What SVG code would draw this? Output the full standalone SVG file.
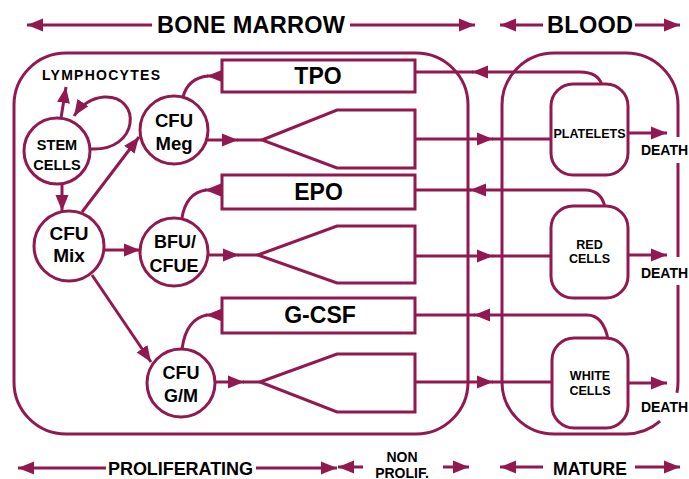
<svg xmlns="http://www.w3.org/2000/svg" width="689" height="479" viewBox="0 0 689 479">
<defs>
<marker id="ah" markerUnits="userSpaceOnUse" markerWidth="18" markerHeight="14" refX="16" refY="7" orient="auto-start-reverse" viewBox="0 0 18 14">
<path d="M0,0.5 L16,7 L0,13.5 z" fill="#911950"/>
</marker>
</defs>
<style>
.ln{fill:none;stroke:#911950;stroke-width:3}
.bx{fill:#fff;stroke:#911950;stroke-width:3}
.ar{fill:none;stroke:#911950;stroke-width:3;marker-end:url(#ah)}
.as{fill:none;stroke:#911950;stroke-width:3;marker-start:url(#ah)}
.t{font-family:"Liberation Sans",Arial,sans-serif;font-weight:bold;fill:#000;text-anchor:middle}
</style>
<rect width="689" height="479" fill="#fff"/>

<g id="regions">
<rect class="ln" x="14" y="53" width="454" height="381" rx="52"/>
<path class="ln" d="M678,137 L678,105 A52 52 0 0 0 626,53 L554,53 A52 52 0 0 0 502,105 L502,382 A52 52 0 0 0 554,434 L626,434 A52 52 0 0 0 660.1,421.2"/>
<path class="ln" d="M678,163 L678,257"/>
<path class="ln" d="M678,285 L678,382 A52 52 0 0 1 676.9,392.8"/>
</g>

<g id="headings">
<line class="as" x1="27" y1="25" x2="152" y2="25"/>
<line class="ar" x1="350" y1="25" x2="475" y2="25"/>
<text class="t" x="251" y="33" font-size="23.5" textLength="188">BONE MARROW</text>
<line class="as" x1="500" y1="25" x2="543" y2="25"/>
<line class="ar" x1="635" y1="25" x2="680" y2="25"/>
<text class="t" x="590" y="33" font-size="23.5" textLength="86">BLOOD</text>
<line class="as" x1="18" y1="468" x2="106" y2="468"/>
<line class="ar" x1="256" y1="468" x2="337" y2="468"/>
<text class="t" x="180.5" y="475" font-size="18" textLength="145">PROLIFERATING</text>
<line class="as" x1="338" y1="467" x2="363" y2="467"/>
<line class="ar" x1="443" y1="467" x2="469" y2="467"/>
<text class="t" x="402" y="462" font-size="14">NON</text>
<text class="t" x="402" y="477.5" font-size="14">PROLIF.</text>
<line class="as" x1="500" y1="467" x2="543" y2="467"/>
<line class="ar" x1="635" y1="467" x2="680" y2="467"/>
<text class="t" x="590" y="475" font-size="17.5" textLength="74">MATURE</text>
</g>

<g id="connectors">
<line class="ar" x1="61" y1="118" x2="66" y2="87"/>
<path class="ar" d="M90,149 C140,152 142,95 104,97 C92,98 82,104 74,116"/>
<line class="ar" x1="62" y1="184" x2="62" y2="211"/>
<line class="ar" x1="82" y1="212" x2="139" y2="137"/>
<line class="ar" x1="105" y1="250" x2="140" y2="250"/>
<line class="ar" x1="92" y1="275" x2="151" y2="362"/>
<line class="ar" x1="206" y1="140" x2="238" y2="140"/>
<line class="ln" x1="237" y1="140" x2="262" y2="140"/>
<line class="ar" x1="207" y1="255" x2="239" y2="255"/>
<line class="ln" x1="238" y1="255" x2="258" y2="255"/>
<line class="ar" x1="214" y1="382" x2="244" y2="382"/>
<line class="ln" x1="243" y1="382" x2="260" y2="382"/>
<line class="ar" x1="415" y1="139" x2="493" y2="139"/>
<line class="ln" x1="492" y1="139" x2="552" y2="139"/>
<line class="ar" x1="415" y1="256" x2="493" y2="256"/>
<line class="ln" x1="492" y1="256" x2="552" y2="256"/>
<line class="ar" x1="415" y1="382" x2="493" y2="382"/>
<line class="ln" x1="492" y1="382" x2="552" y2="382"/>
<line class="ar" x1="628" y1="133" x2="667" y2="133"/>
<line class="ar" x1="628" y1="255" x2="667" y2="255"/>
<line class="ar" x1="628" y1="383" x2="667" y2="383"/>
<path class="ar" d="M602,85 Q598,72 580,72 L472,72"/>
<line class="ln" x1="473" y1="72" x2="415" y2="72"/>
<path class="ar" d="M605,207 Q601,190 585,190 L470,190"/>
<line class="ln" x1="471" y1="190" x2="415" y2="190"/>
<path class="ar" d="M608,339 Q603,315 587,315 L474,315"/>
<line class="ln" x1="475" y1="315" x2="415" y2="315"/>
<line class="ar" x1="222" y1="76" x2="207" y2="76"/>
<path class="ln" d="M208,76 Q188,78 183,97"/>
<line class="ar" x1="222" y1="190" x2="205" y2="190"/>
<path class="ln" d="M206,190 Q186,193 182,218"/>
<line class="ar" x1="222" y1="315" x2="206" y2="315"/>
<path class="ln" d="M207,315 Q186,319 182,349"/>
</g>

<g id="stem">
<circle class="bx" cx="57" cy="151" r="33"/>
<text class="t" x="57" y="150" font-size="14.5">STEM</text>
<text class="t" x="57" y="170" font-size="14.5">CELLS</text>
</g>
<g id="lymphocytes">
<text class="t" x="101" y="80" font-size="14" textLength="118">LYMPHOCYTES</text>
</g>
<g id="cfu-mix">
<circle class="bx" cx="69" cy="246" r="35"/>
<text class="t" x="69" y="240" font-size="19">CFU</text>
<text class="t" x="69" y="262" font-size="19">Mix</text>
</g>
<g id="cfu-meg">
<circle class="bx" cx="174" cy="130" r="34"/>
<text class="t" x="174" y="127" font-size="18.5">CFU</text>
<text class="t" x="174" y="150" font-size="18.5">Meg</text>
</g>
<g id="bfu-cfue">
<circle class="bx" cx="174" cy="252" r="34"/>
<text class="t" x="175" y="248" font-size="18">BFU/</text>
<text class="t" x="174" y="272" font-size="18">CFUE</text>
</g>
<g id="cfu-gm">
<circle class="bx" cx="181" cy="383" r="34"/>
<text class="t" x="181" y="379" font-size="18">CFU</text>
<text class="t" x="181" y="402" font-size="18">G/M</text>
</g>

<g id="tpo">
<rect class="bx" x="222" y="60" width="193" height="32"/>
<text class="t" x="318" y="84" font-size="23">TPO</text>
</g>
<g id="epo">
<rect class="bx" x="222" y="175" width="193" height="34"/>
<text class="t" x="318.5" y="200" font-size="23">EPO</text>
</g>
<g id="gcsf">
<rect class="bx" x="222" y="298" width="193" height="35"/>
<text class="t" x="320" y="323" font-size="23">G-CSF</text>
</g>

<g id="amp-meg"><path class="ln" d="M262,140 L337,110 L415,110 L415,168 L337,168 Z"/></g>
<g id="amp-ery"><path class="ln" d="M258,255 L337,226 L415,226 L415,283 L337,283 Z"/></g>
<g id="amp-gm"><path class="ln" d="M260,382 L337,354 L415,354 L415,412 L337,412 Z"/></g>

<g id="platelets">
<rect class="bx" x="551" y="84" width="77" height="91" rx="22"/>
<text class="t" x="589.5" y="138" font-size="12.5">PLATELETS</text>
</g>
<g id="red-cells">
<rect class="bx" x="551" y="206" width="77" height="92" rx="22"/>
<text class="t" x="589.5" y="249" font-size="12.5">RED</text>
<text class="t" x="589.5" y="263" font-size="12.5">CELLS</text>
</g>
<g id="white-cells">
<rect class="bx" x="552" y="338" width="76" height="90" rx="22"/>
<text class="t" x="590" y="380" font-size="12.5">WHITE</text>
<text class="t" x="590" y="395" font-size="12.5">CELLS</text>
</g>

<g id="death">
<text class="t" x="664.5" y="155" font-size="14">DEATH</text>
<text class="t" x="664.5" y="278" font-size="14">DEATH</text>
<text class="t" x="664.5" y="412" font-size="14">DEATH</text>
</g>
</svg>
